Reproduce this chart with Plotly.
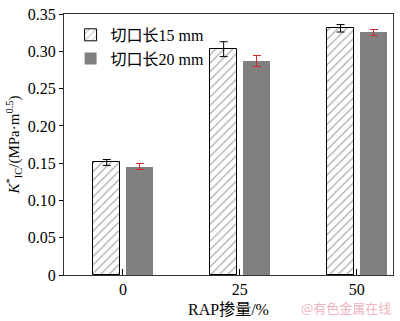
import plotly.graph_objects as go

categories = ["0", "25", "50"]
cat_pos = [0, 1, 2]
series_names = ["切口长15 mm", "切口长20 mm"]
k15 = [0.151, 0.303, 0.331]
k15_err = [0.004, 0.010, 0.005]
k20 = [0.145, 0.287, 0.326]
k20_err = [0.004, 0.0075, 0.004]
y_ticks = [0, 0.05, 0.10, 0.15, 0.20, 0.25, 0.30, 0.35]
y_ticktext = ["0", "0.05", "0.10", "0.15", "0.20", "0.25", "0.30", "0.35"]

FONT = "Liberation Serif, Times New Roman, Noto Sans CJK SC, serif"

fig = go.Figure()
fig.add_trace(go.Bar(
    x=cat_pos, y=k15, name=series_names[0],
    width=0.235, offset=-0.256,
    marker=dict(color="white", line=dict(color="black", width=1),
                pattern=dict(shape="/", fgcolor="#555555", bgcolor="white",
                             size=6, solidity=0.2)),
    error_y=dict(type="data", array=k15_err, color="black", thickness=1, width=4),
))
fig.add_trace(go.Bar(
    x=cat_pos, y=k20, name=series_names[1],
    width=0.235, offset=0.026,
    marker=dict(color="#808080", line=dict(width=0)),
    error_y=dict(type="data", array=k20_err, color="#d02a2a", thickness=1, width=4),
))

fig.update_layout(
    width=400, height=321,
    margin=dict(l=64, r=7, t=6, b=46),
    paper_bgcolor="white", plot_bgcolor="white",
    font=dict(family=FONT, size=16, color="black"),
    showlegend=True,
    legend=dict(x=0.02, y=0.985, xanchor="left", yanchor="top",
                bgcolor="rgba(0,0,0,0)", borderwidth=0,
                font=dict(size=16, family=FONT), tracegroupgap=0,
                itemwidth=30),
    bargap=0,
)
fig.update_xaxes(
    range=[-0.504, 2.31], tickvals=cat_pos, ticktext=categories,
    ticks="inside", ticklen=6, tickcolor="black",
    showline=True, linecolor="#333333", linewidth=1, mirror=True,
    showgrid=False, zeroline=False,
    title=dict(text="RAP掺量/%", font=dict(size=16), standoff=6),
    tickfont=dict(size=16),
)
fig.update_yaxes(
    range=[0, 0.3502], tickvals=y_ticks, ticktext=y_ticktext,
    ticks="outside", ticklen=4, tickcolor="black",
    showline=True, linecolor="#333333", linewidth=1, mirror=True,
    showgrid=False, zeroline=False, ticklabeloverflow="allow",
    title=dict(text="<i>K</i><sup>*</sup><sub>IC</sub>/(MPa·m<sup>0.5</sup>)",
               font=dict(size=15), standoff=4),
    tickfont=dict(size=16),
)
fig.add_annotation(
    text="@有色金属在线", xref="paper", yref="paper",
    x=1.0, y=-0.126, xanchor="right", yanchor="middle", showarrow=False,
    font=dict(size=13, color="#f0b4bd", family="Noto Sans CJK SC"),
)
fig.write_html("out.html")
